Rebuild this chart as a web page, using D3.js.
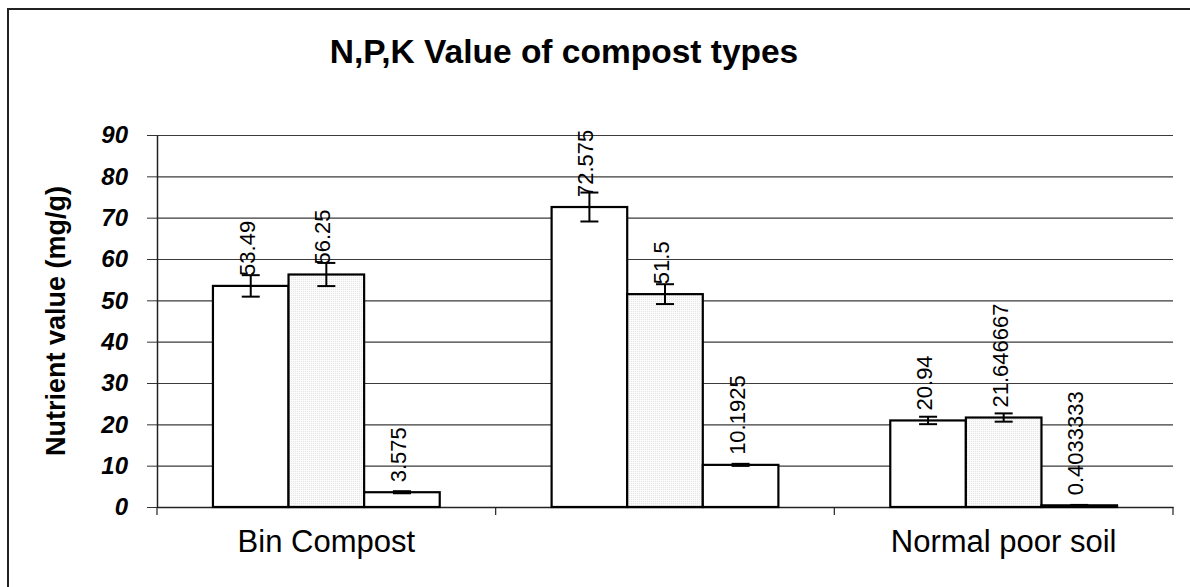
<!DOCTYPE html>
<html>
<head>
<meta charset="utf-8">
<script src="https://cdn.jsdelivr.net/npm/d3@7/dist/d3.min.js"></script>
<style>
  body { margin: 0; background: #fff; }
  text { font-family: "Liberation Sans", Arial, sans-serif; }
</style>
</head>
<body>
<div id="chart"></div>
<script>
// chart data
const categories = ["Bin Compost", "", "Normal poor soil"];
const seriesNames = ["N", "P", "K"];
const valuesN = [53.49, 72.575, 20.94];
const valuesP = [56.25, 51.5, 21.646667];
const valuesK = [3.575, 10.1925, 0.4033333];
const errorN = [2.6, 3.5, 0.9];
const errorP = [2.8, 2.4, 1.0];
const errorK = [0.25, 0.25, 0.1];
const labelsN = ["53.49", "72.575", "20.94"];
const labelsP = ["56.25", "51.5", "21.646667"];
const labelsK = ["3.575", "10.1925", "0.4033333"];
const yTicks = [0, 10, 20, 30, 40, 50, 60, 70, 80, 90];

const W = 1190, H = 587;
const margin = {top: 135, right: 17, bottom: 80, left: 157};
const width = W - margin.left - margin.right,
    height = H - margin.top - margin.bottom;

// flatten into bars
const allVals = [valuesN, valuesP, valuesK];
const allErr = [errorN, errorP, errorK];
const allLabels = [labelsN, labelsP, labelsK];
let bars = [];
categories.forEach((c, i) => {
    seriesNames.forEach((s, j) => {
        bars.push({cat: i, series: s, value: allVals[j][i], err: allErr[j][i], label: allLabels[j][i]});
    });
});

const svg = d3.select("#chart")
    .append("svg")
    .attr("width", W)
    .attr("height", H);

const defs = svg.append("defs");
const pat = defs.append("pattern")
    .attr("id", "dots")
    .attr("width", 2)
    .attr("height", 2)
    .attr("patternUnits", "userSpaceOnUse");
pat.append("rect").attr("width", 2).attr("height", 2).attr("fill", "#fbfbfb");
pat.append("rect").attr("width", 1).attr("height", 1).attr("fill", "#e4e4e4");

// outer frame
svg.append("rect")
    .attr("x", 8).attr("y", 9)
    .attr("width", 1250).attr("height", 700)
    .attr("fill", "none")
    .attr("stroke", "#222")
    .attr("stroke-width", 2);

svg.append("text")
    .attr("x", 564)
    .attr("y", 63)
    .attr("text-anchor", "middle")
    .style("font-size", "33.5px")
    .style("font-weight", "bold")
    .text("N,P,K Value of compost types");

const chart = svg.append("g")
    .attr("transform", `translate(${margin.left}, ${margin.top})`);

const x0 = d3.scaleBand()
    .domain(d3.range(categories.length))
    .range([0, width])
    .padding(0);

const x1 = d3.scaleBand()
    .domain(seriesNames)
    .range([0, x0.bandwidth()])
    .paddingInner(0)
    .paddingOuter(0.74);

const yScale = d3.scaleLinear()
    .domain([0, 90])
    .range([height, 0]);

// gridlines
chart.append("g")
    .attr("class", "grid")
    .call(d3.axisLeft(yScale).tickValues(yTicks).tickSize(-width).tickFormat(""))
    .call(g => g.select(".domain").remove())
    .call(g => g.selectAll("line").attr("stroke", "#3a3a3a").attr("stroke-width", 1.2));

// y axis
chart.append("g")
    .call(d3.axisLeft(yScale).tickValues(yTicks).tickSize(10).tickSizeOuter(0).tickPadding(19))
    .call(g => g.select(".domain").attr("stroke", "#222").attr("stroke-width", 1.5))
    .call(g => g.selectAll("line").attr("stroke", "#333"))
    .call(g => g.selectAll("text")
        .style("font-size", "24px")
        .style("font-weight", "bold")
        .style("font-style", "italic")
        .attr("fill", "#000"));

// x axis
chart.append("g")
    .attr("transform", `translate(0, ${height})`)
    .call(d3.axisBottom(x0).tickSize(0).tickFormat(i => categories[i]))
    .call(g => g.select(".domain").attr("stroke", "#222").attr("stroke-width", 1.5))
    .call(g => g.selectAll("text")
        .attr("y", 45)
        .attr("dy", 0)
        .style("font-size", "31px")
        .attr("fill", "#000"));

// category boundary ticks
const bounds = d3.range(categories.length + 1).map(i => i < categories.length ? x0(i) : x0(i - 1) + x0.bandwidth());
chart.selectAll(".ctick")
    .data(bounds)
    .enter()
    .append("line")
    .attr("x1", d => d).attr("x2", d => d)
    .attr("y1", height).attr("y2", height + 8)
    .attr("stroke", "#222")
    .attr("stroke-width", 1.2);

const barGroups = chart.selectAll(".bar")
    .data(bars)
    .enter()
    .append("g");

barGroups.append("rect")
    .attr("x", d => x0(d.cat) + x1(d.series))
    .attr("y", d => yScale(d.value))
    .attr("width", x1.bandwidth())
    .attr("height", d => height - yScale(d.value))
    .attr("fill", d => d.series === "P" ? "url(#dots)" : "#fff")
    .attr("stroke", "#000")
    .attr("stroke-width", 2.2);

// error bars
const cx = d => x0(d.cat) + x1(d.series) + x1.bandwidth() / 2;
barGroups.append("line")
    .attr("x1", cx).attr("x2", cx)
    .attr("y1", d => yScale(d.value + d.err))
    .attr("y2", d => yScale(d.value - d.err))
    .attr("stroke", "#000").attr("stroke-width", 2);
barGroups.append("line")
    .attr("x1", d => cx(d) - 9).attr("x2", d => cx(d) + 9)
    .attr("y1", d => yScale(d.value + d.err))
    .attr("y2", d => yScale(d.value + d.err))
    .attr("stroke", "#000").attr("stroke-width", 2);
barGroups.append("line")
    .attr("x1", d => cx(d) - 9).attr("x2", d => cx(d) + 9)
    .attr("y1", d => yScale(d.value - d.err))
    .attr("y2", d => yScale(d.value - d.err))
    .attr("stroke", "#000").attr("stroke-width", 2);

// value labels
barGroups.append("text")
    .attr("transform", d => `translate(${cx(d) + 4}, ${yScale(d.value) - 10}) rotate(-90)`)
    .attr("text-anchor", "start")
    .style("font-size", "22px")
    .attr("fill", "#000")
    .text(d => d.label);

// y axis title
svg.append("text")
    .attr("transform", `translate(65, ${margin.top + height / 2}) rotate(-90)`)
    .attr("text-anchor", "middle")
    .style("font-size", "27px")
    .style("font-weight", "bold")
    .text("Nutrient value (mg/g)");
</script>
</body>
</html>
